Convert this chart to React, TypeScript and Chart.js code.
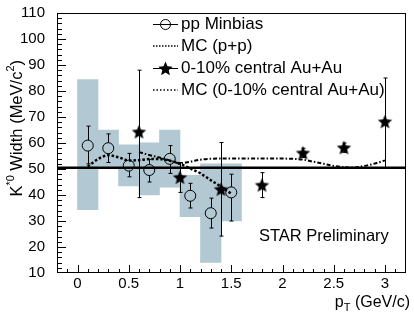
import { useEffect, useRef } from 'react';
import { Chart, registerables } from 'chart.js';
Chart.register(...registerables);

const FONT = "'Liberation Sans', Arial, Helvetica, sans-serif";

// ---- axis ranges / ticks ----
const X_MIN = -0.2;
const X_MAX = 3.2;
const Y_MIN = 10;
const Y_MAX = 110;
const X_MAJOR = 0.5;
const X_MINOR = 0.1;
const Y_MAJOR = 10;
const Y_MINOR = 2;

// ---- reference line (PDG width) ----
const REF_WIDTH = 50.5;

// ---- pp Minbias ----
const ppX = [0.1, 0.3, 0.5, 0.7, 0.9, 1.1, 1.3, 1.5];
const ppY = [59, 58, 51.3, 49.6, 53.9, 39.7, 33, 41];
const ppErrHi = [66.5, 63.5, 56, 53.7, 59, 44.5, 38.8, 48];
const ppErrLo = [52, 52.5, 47, 45, 48.3, 35, 27.3, 30];
const ppSysLo = [34.4, 51, 43.5, 40, 43, 31.7, 14.1, 30];
const ppSysHi = [84.4, 65, 59.3, 60.1, 65, 47.6, 52, 52];

// ---- 0-10% central Au+Au ----
const auX = [0.6, 1.0, 1.4, 1.8, 2.2, 2.6, 3.0];
const auY = [64.3, 46.8, 42.2, 43.8, 56.2, 58.2, 68.2];
const auErrHi = [88, 52.5, 60.2, 48.6, 58, 60, 85];
const auErrLo = [39, 41, 24.2, 39, 54.4, 56.4, 50.2];

// ---- MC (p+p) ----
const mcPPX = [0.1, 0.2, 0.3, 0.4, 0.5, 0.6, 0.7, 0.8, 0.9, 1.0, 1.1, 1.2, 1.3, 1.4, 1.5];
const mcPPY = [51, 53.8, 55.3, 54.5, 53.3, 53.4, 53.8, 53.8, 53.2, 52, 50.2, 48.3, 45.7, 43.2, 40.5];

// ---- MC (0-10% central Au+Au) ----
const mcAAX = [0.6, 0.7, 0.8, 0.9, 1.0, 1.1, 1.2, 1.4, 1.6, 1.8, 2.0, 2.2, 2.3, 2.4, 2.5, 2.6, 2.7, 2.8, 2.9, 3.0];
const mcAAY = [56.5, 55.4, 54.4, 53.3, 52.2, 52.8, 53.6, 54, 54, 54, 54, 53.6, 52.8, 52, 51.2, 50.7, 50.6, 51.2, 52.1, 53.3];

const LABEL_PP = 'pp Minbias';
const LABEL_MCPP = 'MC (p+p)';
const LABEL_AU = '0-10% central Au+Au';
const LABEL_MCAA = 'MC (0-10% central Au+Au)';
const WATERMARK = 'STAR Preliminary';

const BOX_COLOR = 'rgb(178,200,210)';
const CIRCLE_R = 5.5;

function makeStar(R: number, ratio: number, color: string) {
  const size = Math.ceil(R * 2) + 2;
  const c = document.createElement('canvas');
  c.width = size;
  c.height = size;
  const ctx = c.getContext('2d')!;
  ctx.fillStyle = color;
  ctx.beginPath();
  const cx = size / 2;
  const cy = size / 2 + R * 0.08;
  for (let i = 0; i < 10; i++) {
    const r = i % 2 === 0 ? R : R * ratio;
    const a = -Math.PI / 2 + (i * Math.PI) / 5;
    const px = cx + r * Math.cos(a);
    const py = cy + r * Math.sin(a);
    if (i === 0) ctx.moveTo(px, py);
    else ctx.lineTo(px, py);
  }
  ctx.closePath();
  ctx.fill();
  return c;
}

const isMult = (v: number, s: number) => Math.abs(v / s - Math.round(v / s)) < 1e-6;

type Seg = { t: string; sup?: boolean; sub?: boolean };

function richWidth(ctx: CanvasRenderingContext2D, segs: Seg[], size: number, small: number) {
  let w = 0;
  for (const s of segs) {
    ctx.font = `${s.sup || s.sub ? small : size}px ${FONT}`;
    w += ctx.measureText(s.t).width;
  }
  return w;
}

function drawRich(ctx: CanvasRenderingContext2D, segs: Seg[], x: number, y: number, size: number, small: number) {
  let cx = x;
  ctx.textAlign = 'left';
  ctx.textBaseline = 'middle';
  for (const s of segs) {
    ctx.font = `${s.sup || s.sub ? small : size}px ${FONT}`;
    const dy = s.sup ? -6 : s.sub ? 5 : 0;
    ctx.fillText(s.t, cx, y + dy);
    cx += ctx.measureText(s.t).width;
  }
}

export default function App() {
  const ref = useRef<HTMLCanvasElement>(null);

  useEffect(() => {
    document.body.style.margin = '0';
    const star = makeStar(7.5, 0.45, '#000');

    const decor = {
      id: 'decor',
      afterDatasetDraw(chart: any, args: any) {
        if (args.index !== 0) return;
        const ctx = chart.ctx as CanvasRenderingContext2D;
        const xs = chart.scales.x;
        const ys = chart.scales.y;
        ctx.save();
        ctx.strokeStyle = '#000';
        ctx.lineWidth = 1;
        const cap = 2;
        ppX.forEach((x, i) => {
          const px = Math.round(xs.getPixelForValue(x)) + 0.5;
          const pc = ys.getPixelForValue(ppY[i]);
          const ph = ys.getPixelForValue(ppErrHi[i]);
          const pl = ys.getPixelForValue(ppErrLo[i]);
          ctx.beginPath();
          ctx.moveTo(px, ph);
          ctx.lineTo(px, pc - CIRCLE_R);
          ctx.moveTo(px, pc + CIRCLE_R);
          ctx.lineTo(px, pl);
          ctx.moveTo(px - cap, ph);
          ctx.lineTo(px + cap, ph);
          ctx.moveTo(px - cap, pl);
          ctx.lineTo(px + cap, pl);
          ctx.stroke();
        });
        auX.forEach((x, i) => {
          const px = Math.round(xs.getPixelForValue(x)) + 0.5;
          const ph = ys.getPixelForValue(auErrHi[i]);
          const pl = ys.getPixelForValue(auErrLo[i]);
          ctx.beginPath();
          ctx.moveTo(px, ph);
          ctx.lineTo(px, pl);
          ctx.moveTo(px - cap, ph);
          ctx.lineTo(px + cap, ph);
          ctx.moveTo(px - cap, pl);
          ctx.lineTo(px + cap, pl);
          ctx.stroke();
        });
        ctx.restore();
      },
      afterDraw(chart: any) {
        const ctx = chart.ctx as CanvasRenderingContext2D;
        const xs = chart.scales.x;
        const ys = chart.scales.y;
        const ca = chart.chartArea;
        ctx.save();
        ctx.strokeStyle = '#000';
        ctx.lineWidth = 1;
        ctx.strokeRect(Math.round(ca.left) + 0.5, Math.round(ca.top) + 0.5, Math.round(ca.right - ca.left) - 1, Math.round(ca.bottom - ca.top) - 1);
        ctx.beginPath();
        const nx = Math.round((X_MAX - X_MIN) / X_MINOR);
        for (let k = 1; k < nx; k++) {
          const v = X_MIN + k * X_MINOR;
          const px = Math.round(xs.getPixelForValue(v)) + 0.5;
          const len = isMult(v, X_MAJOR) ? 8 : 4;
          ctx.moveTo(px, ca.bottom);
          ctx.lineTo(px, ca.bottom - len);
        }
        const ny = Math.round((Y_MAX - Y_MIN) / Y_MINOR);
        for (let k = 1; k < ny; k++) {
          const v = Y_MIN + k * Y_MINOR;
          const py = Math.round(ys.getPixelForValue(v)) + 0.5;
          const len = isMult(v, Y_MAJOR) ? 9 : 5;
          ctx.moveTo(ca.left, py);
          ctx.lineTo(ca.left + len, py);
        }
        ctx.stroke();

        ctx.fillStyle = '#000';
        const ySegs: Seg[] = [{ t: 'K' }, { t: '*0', sup: true }, { t: ' Width (MeV/c' }, { t: '2', sup: true }, { t: ')' }];
        const yw = richWidth(ctx, ySegs, 16.5, 11);
        ctx.save();
        ctx.translate(17, 60);
        ctx.rotate(-Math.PI / 2);
        drawRich(ctx, ySegs, -yw, 0, 16.5, 11);
        ctx.restore();
        const xSegs: Seg[] = [{ t: 'p' }, { t: 'T', sub: true }, { t: ' (GeV/c)' }];
        const xw = richWidth(ctx, xSegs, 16, 11);
        drawRich(ctx, xSegs, 410 - xw, 303, 16, 11);

        ctx.font = `16.5px ${FONT}`;
        ctx.textAlign = 'left';
        ctx.textBaseline = 'middle';
        ctx.fillText(WATERMARK, xs.getPixelForValue(1.77), ys.getPixelForValue(24));

        // legend
        const lx0 = 153;
        const lx1 = 178;
        const lxc = (lx0 + lx1) / 2;
        const tx = 181;
        const rows = [24, 46, 68, 90];
        ctx.font = `17px ${FONT}`;
        ctx.textBaseline = 'middle';
        const labels = [LABEL_PP, LABEL_MCPP, LABEL_AU, LABEL_MCAA];
        rows.forEach((y, i) => {
          ctx.fillText(labels[i], tx, y);
        });
        ctx.lineWidth = 1;
        ctx.beginPath();
        ctx.moveTo(lx0, rows[0] + 0.5);
        ctx.lineTo(lxc - 5, rows[0] + 0.5);
        ctx.moveTo(lxc + 5, rows[0] + 0.5);
        ctx.lineTo(lx1, rows[0] + 0.5);
        ctx.moveTo(lxc - 5, rows[0] + 0.5);
        ctx.lineTo(lxc + 5, rows[0] + 0.5);
        ctx.stroke();
        ctx.beginPath();
        ctx.arc(lxc, rows[0] + 0.5, 5, 0, Math.PI * 2);
        ctx.stroke();
        ctx.beginPath();
        ctx.moveTo(lx0, rows[2] + 0.5);
        ctx.lineTo(lx1, rows[2] + 0.5);
        ctx.stroke();
        ctx.drawImage(star, lxc - star.width / 2, rows[2] + 0.5 - star.height / 2);
        ctx.lineWidth = 1.5;
        ctx.setLineDash([1.5, 1.5]);
        ctx.beginPath();
        ctx.moveTo(lx0, rows[1]);
        ctx.lineTo(lx1, rows[1]);
        ctx.stroke();
        ctx.setLineDash([1.5, 2]);
        ctx.beginPath();
        ctx.moveTo(lx0, rows[3]);
        ctx.lineTo(lx1, rows[3]);
        ctx.stroke();
        ctx.restore();
      },
    };

    const chart = new Chart(ref.current!, {
      type: 'scatter',
      data: {
        datasets: [
          {
            type: 'bar',
            label: 'pp sys',
            data: ppX.map((x, i) => ({ x, y: [ppSysLo[i], ppSysHi[i]] })) as any,
            backgroundColor: BOX_COLOR,
            borderWidth: 0,
            barPercentage: 1,
            categoryPercentage: 1,
            grouped: false,
            order: 10,
          } as any,
          {
            type: 'line',
            label: 'ref',
            data: [
              { x: X_MIN, y: REF_WIDTH },
              { x: X_MAX, y: REF_WIDTH },
            ],
            borderColor: '#000',
            borderWidth: 2.5,
            pointRadius: 0,
            order: 5,
          },
          {
            type: 'line',
            label: LABEL_MCPP,
            data: mcPPX.map((x, i) => ({ x, y: mcPPY[i] })),
            borderColor: '#000',
            borderWidth: 2.5,
            borderDash: [2.5, 2],
            cubicInterpolationMode: 'monotone',
            pointRadius: 0,
            order: 4,
          },
          {
            type: 'line',
            label: LABEL_MCAA,
            data: mcAAX.map((x, i) => ({ x, y: mcAAY[i] })),
            borderColor: '#000',
            borderWidth: 2,
            borderDash: [4, 2, 1.5, 2],
            cubicInterpolationMode: 'monotone',
            pointRadius: 0,
            order: 3,
          },
          {
            type: 'scatter',
            label: LABEL_PP,
            data: ppX.map((x, i) => ({ x, y: ppY[i] })),
            pointStyle: 'circle',
            pointRadius: CIRCLE_R,
            borderColor: '#000',
            borderWidth: 1,
            backgroundColor: 'rgba(0,0,0,0)',
            order: 2,
          },
          {
            type: 'scatter',
            label: LABEL_AU,
            data: auX.map((x, i) => ({ x, y: auY[i] })),
            pointStyle: star as any,
            pointRadius: 7.5,
            order: 1,
          },
        ],
      },
      options: {
        responsive: false,
        devicePixelRatio: 1,
        animation: false,
        layout: { padding: { top: 12, right: 2, left: 0, bottom: 0 } },
        plugins: { legend: { display: false }, tooltip: { enabled: false } },
        scales: {
          x: {
            type: 'linear',
            min: X_MIN,
            max: X_MAX,
            offset: false,
            grid: { display: false, offset: false },
            border: { display: false },
            afterFit: (s: any) => {
              s.height = 49;
            },
            ticks: {
              stepSize: X_MAJOR,
              includeBounds: false,
              autoSkip: false,
              maxRotation: 0,
              padding: -6,
              color: '#000',
              font: { family: FONT, size: 15 },
              callback: (v: any) => (isMult(Number(v), X_MAJOR) ? String(Math.round(Number(v) * 2) / 2) : ''),
            },
          },
          y: {
            type: 'linear',
            min: Y_MIN,
            max: Y_MAX,
            grid: { display: false },
            border: { display: false },
            afterFit: (s: any) => {
              s.width = 57;
            },
            ticks: {
              stepSize: Y_MAJOR,
              padding: 4,
              color: '#000',
              font: { family: FONT, size: 15 },
              callback: (v: any) => (isMult(Number(v), Y_MAJOR) ? String(Math.round(Number(v))) : ''),
            },
          },
        },
      },
      plugins: [decor],
    } as any);
    return () => chart.destroy();
  }, []);

  return (
    <div style={{ width: 414, height: 322 }}>
      <canvas ref={ref} width={414} height={322} style={{ display: 'block' }} />
    </div>
  );
}
